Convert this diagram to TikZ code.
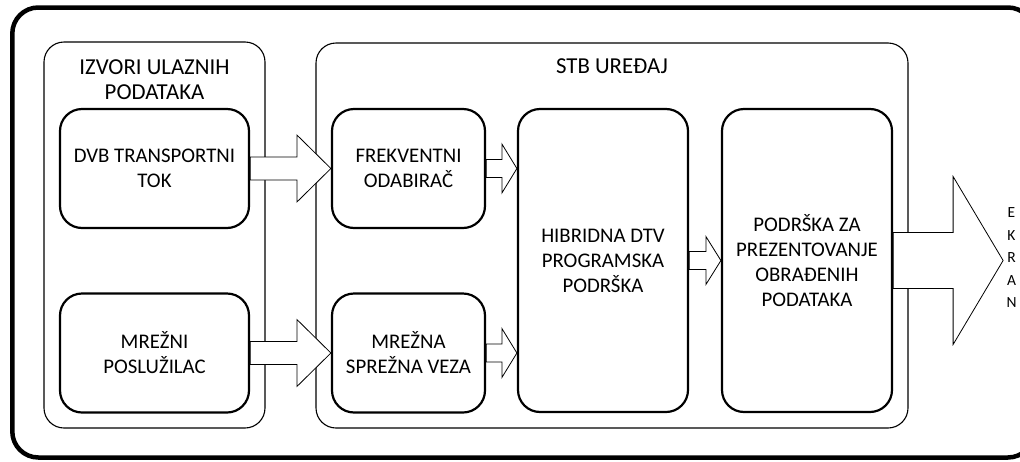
\documentclass[tikz,border=0pt]{standalone}
\usepackage{fontspec}
\setmainfont{Carlito}
\usepackage{tikz}
\usetikzlibrary{positioning}
\usetikzlibrary{calc}
\pgfdeclarelayer{back}
\pgfdeclarelayer{mid}
\pgfsetlayers{back,mid,main}
\tikzstyle{frame}=[draw,line width=4.5pt,rounded corners=26pt]
\tikzstyle{group}=[draw,line width=1.1pt,rounded corners=20pt,inner sep=0pt]
\tikzstyle{block}=[draw,line width=2.2pt,rounded corners=22pt,fill=white,align=center,inner sep=0pt,font=\fontsize{20.8}{25}\selectfont]
\tikzstyle{title}=[align=center,inner sep=0pt,font=\fontsize{22.8}{25}\selectfont]
\tikzstyle{blockarrow}=[draw,line width=0.8pt,fill=white,line join=miter]

\begin{document}
\begin{tikzpicture}[x=1pt,y=-1pt]

  \useasboundingbox (0,0) rectangle (1020,461);

  % boxes
  \foreach \x/\y/\w/\h/\name/\label in {154.5/168.5/189/119/dvb/{DVB TRANSPORTNI\\TOK},
                                         154.5/353/189/119/server/{MREŽNI\\POSLUŽILAC},
                                         408.5/168.5/153/119/tuner/{FREKVENTNI\\ODABIRAČ},
                                         408.5/353/153/119/netif/{MREŽNA\\SPREŽNA VEZA},
                                         603/260.5/170/303/hybrid/{HIBRIDNA DTV\\PROGRAMSKA\\PODRŠKA},
                                         807/260.5/170/303/present/{PODRŠKA ZA\\PREZENTOVANJE\\OBRAĐENIH\\PODATAKA}}
         \node[block, minimum width=\w pt, minimum height=\h pt] (\name) at (\x,\y) {\label};

  \coordinate (hybin1) at (hybrid.west |- tuner.east);
  \coordinate (hybin2) at (hybrid.west |- netif.east);
  \coordinate (screen) at ($(present.east)+(110,0)$);

  \node[inner sep=0pt, align=center, font=\fontsize{15.5}{22.5}\selectfont] (ekran) at (1011.5,258) {E\\K\\R\\A\\N};

  \begin{pgfonlayer}{back}
   \draw[frame] (12.3,7.5) rectangle (1034,457.5);
   \foreach \x/\y/\w/\h/\name in {154.5/235/221/386/src, 612/235.5/592/385/stb}
          \node[group, minimum width=\w pt, minimum height=\h pt] (\name) at (\x,\y) {};
   \node[title, below=18pt of src.north] (srctitle) {IZVORI ULAZNIH\\PODATAKA};
   \node[title, below=16.3pt of stb.north] (stbtitle) {STB UREĐAJ};
  \end{pgfonlayer}

  % arrows
  \begin{pgfonlayer}{mid}
  \foreach \src/\dst/\s/\h/\l in {dvb.east/tuner.west/11.5/33.5/34, server.east/netif.west/11.5/33.5/34,
                                  tuner.east/hybin1/9/24.5/15, netif.east/hybin2/9/24.5/15,
                                  hybrid.east/present.west/9/24/15, present.east/screen/28/84/50}
         \draw[blockarrow] ($(\src)+(0,-\s)$) -- ($(\dst)+(-\l,-\s)$) -- ($(\dst)+(-\l,-\h)$) -- (\dst)
                           -- ($(\dst)+(-\l,\h)$) -- ($(\dst)+(-\l,\s)$) -- ($(\src)+(0,\s)$) -- cycle;
  \end{pgfonlayer}

\end{tikzpicture}
\end{document}
